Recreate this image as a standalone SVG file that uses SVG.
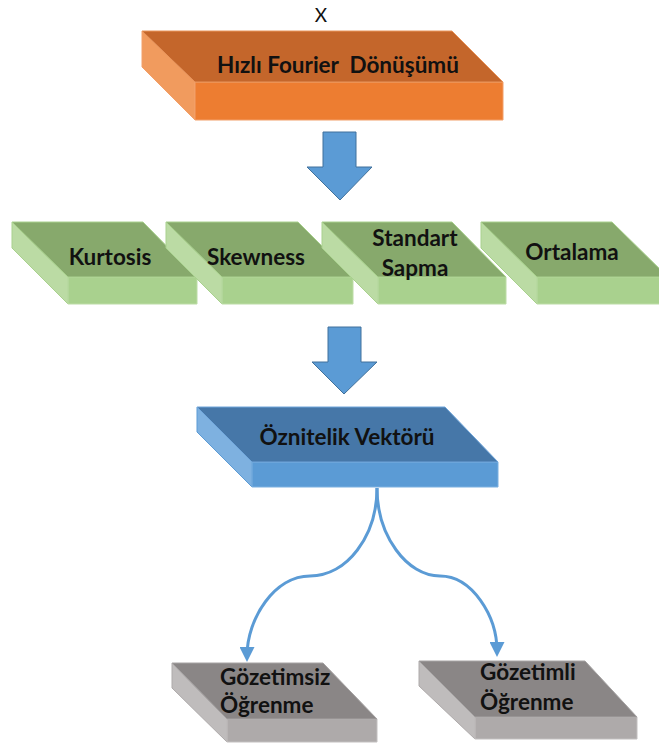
<svg xmlns="http://www.w3.org/2000/svg" width="659" height="744" viewBox="0 0 659 744">
  <style>
    .lbl { font-family: Lato, "Liberation Sans", sans-serif; font-weight: 700; font-size: 22.5px; fill: #111; white-space: pre; }
    .mid { text-anchor: middle; }
    .o-top { fill: #c4662b; stroke: #e9955c; stroke-width: 1; }
    .o-front { fill: #ed7d31; stroke: #f2a06a; stroke-width: 1; }
    .o-side { fill: #f19b5e; stroke: #f2a06a; stroke-width: 1; }
    .g-top { fill: #87a96c; stroke: #a9d18e; stroke-width: 1; }
    .g-front { fill: #a9d18e; stroke: #bcdca6; stroke-width: 1; }
    .g-side { fill: #bbdba4; stroke: #a9d18e; stroke-width: 1; }
    .b-top { fill: #4677a8; stroke: #6fa5da; stroke-width: 1; }
    .b-front { fill: #5b9bd5; stroke: #7cb0e0; stroke-width: 1; }
    .b-side { fill: #7eb1e0; stroke: #5b9bd5; stroke-width: 1; }
    .y-top { fill: #8a8686; stroke: #a6a3a3; stroke-width: 1; }
    .y-front { fill: #aeaaaa; stroke: #c3c0c0; stroke-width: 1; }
    .y-side { fill: #bfbcbc; stroke: #aeaaaa; stroke-width: 1; }
    .bigarrow { fill: #5b9bd5; stroke: #41719c; stroke-width: 1; }
    .curve { fill: none; stroke: #5b9bd5; stroke-width: 3; marker-end: url(#tip); }
  </style>
  <defs>
    <marker id="tip" viewBox="0 0 10 10" refX="6" refY="5" markerWidth="5" markerHeight="5" orient="auto" markerUnits="strokeWidth">
      <path d="M0,0 L10,5 L0,10 Z" fill="#5b9bd5"/>
    </marker>
  </defs>
  <rect width="659" height="744" fill="#ffffff"/>

  <!-- input signal label -->
  <text x="321" y="22" text-anchor="middle" font-family="Lato, 'Liberation Sans', sans-serif" font-size="19" fill="#111">X</text>

  <g id="fft">
    <polygon class="o-side" points="142,31 195,82 195,120 142,67"/>
    <polygon class="o-front" points="195,82 503,82 503,120 195,120"/>
    <polygon class="o-top" points="142,31 452,31 503,82 195,82"/>
    <text class="lbl mid" x="338" y="73" xml:space="preserve">Hızlı Fourier  Dönüşümü</text>
  </g>

  <g id="kurtosis">
    <polygon class="g-side" points="12,222 68,277 68,304 12,248"/>
    <polygon class="g-front" points="68,277 197,277 197,304 68,304"/>
    <polygon class="g-top" points="12,222 143,222 197,277 68,277"/>
    <text class="lbl mid" x="110" y="265">Kurtosis</text>
  </g>

  <g id="skewness">
    <polygon class="g-side" points="166,222 222,277 222,304 166,248"/>
    <polygon class="g-front" points="222,277 353,277 353,304 222,304"/>
    <polygon class="g-top" points="166,222 298,222 353,277 222,277"/>
    <text class="lbl mid" x="256" y="265">Skewness</text>
  </g>

  <g id="standart-sapma">
    <polygon class="g-side" points="322,222 378,277 378,304 322,248"/>
    <polygon class="g-front" points="378,277 506,277 506,304 378,304"/>
    <polygon class="g-top" points="322,222 452,222 506,277 378,277"/>
    <text class="lbl mid" x="415" y="246">Standart</text>
    <text class="lbl mid" x="415" y="276">Sapma</text>
  </g>

  <g id="ortalama">
    <polygon class="g-side" points="481,222 537,277 537,304 481,248"/>
    <polygon class="g-front" points="537,277 668,277 668,304 537,304"/>
    <polygon class="g-top" points="481,222 612,222 668,277 537,277"/>
    <text class="lbl mid" x="572" y="260">Ortalama</text>
  </g>

  <g id="oznitelik">
    <polygon class="b-side" points="197,407 252,462 252,487 197,432"/>
    <polygon class="b-front" points="252,462 498,462 498,487 252,487"/>
    <polygon class="b-top" points="197,407 445,407 498,462 252,462"/>
    <text class="lbl mid" x="347" y="445">Öznitelik Vektörü</text>
  </g>

  <g id="gozetimsiz">
    <polygon class="y-side" points="172,663 227,719 227,742 172,688"/>
    <polygon class="y-front" points="227,719 377,719 377,742 227,742"/>
    <polygon class="y-top" points="172,663 323,663 377,719 227,719"/>
    <text class="lbl" x="220" y="685">Gözetimsiz</text>
    <text class="lbl" x="220" y="713">Öğrenme</text>
  </g>

  <g id="gozetimli">
    <polygon class="y-side" points="419,661 475,717 475,739 419,686"/>
    <polygon class="y-front" points="475,717 637,717 637,739 475,739"/>
    <polygon class="y-top" points="419,661 585,661 637,717 475,717"/>
    <text class="lbl" x="480" y="680">Gözetimli</text>
    <text class="lbl" x="480" y="710">Öğrenme</text>
  </g>

  <g id="connectors">
    <path class="bigarrow" d="M323,132 H356 V167 H372 L340,200 L307,167 H323 Z"/>
    <path class="bigarrow" d="M328,327 H361 V362 H377 L344,394 L312,362 H328 Z"/>
    <path class="curve" d="M377,488 C377,536 347,576 310,576 C275,576 247,618 247,656"/>
    <path class="curve" d="M377,488 C377,536 407,576 440,576 C472,576 497,616 497,651"/>
  </g>
</svg>
